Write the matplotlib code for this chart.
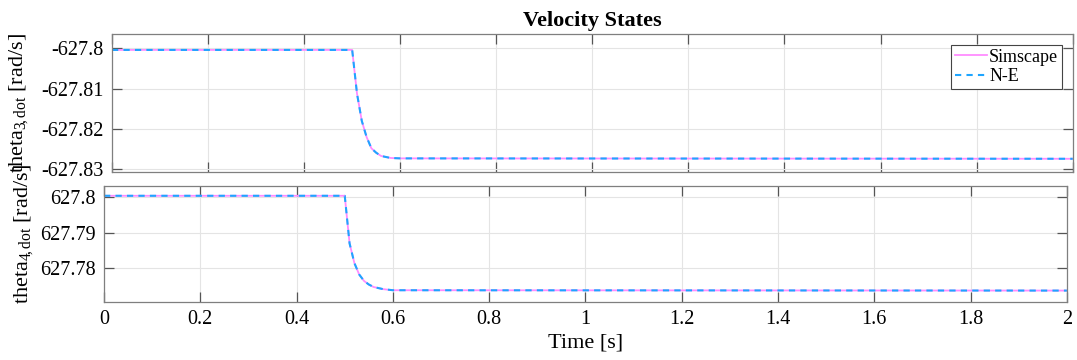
import numpy as np
import matplotlib
matplotlib.use('Agg')
import matplotlib.pyplot as plt

plt.rcParams['font.family'] = ['Liberation Serif', 'DejaVu Serif']
plt.rcParams['mathtext.fontset'] = 'custom'
plt.rcParams['mathtext.rm'] = 'Liberation Serif'
plt.rcParams['mathtext.it'] = 'Liberation Serif'

# time samples [s]
t = [0.0, 0.5, 0.51, 0.52, 0.53, 0.54, 0.55, 0.56, 0.58, 0.6, 2.0]
# theta_3 dot [rad/s]
theta3_sim = [-627.8004, -627.8004, -627.8112, -627.8180, -627.8220, -627.8248,
              -627.8259, -627.8267, -627.8272, -627.8273, -627.8274]
theta3_ne = theta3_sim
# theta_4 dot [rad/s]
theta4_sim = [627.8003, 627.8003, 627.7870, 627.7815, 627.7783, 627.7765,
              627.7755, 627.7748, 627.7742, 627.7739, 627.7738]
theta4_ne = theta4_sim

xticks = [0, 0.2, 0.4, 0.6, 0.8, 1, 1.2, 1.4, 1.6, 1.8, 2]
xticklabels = ['0', '0.2', '0.4', '0.6', '0.8', '1', '1.2', '1.4', '1.6', '1.8', '2']

c_sim = '#ff8cff'
c_ne = '#1ea5ff'

fig = plt.figure(figsize=(10.77, 3.6), dpi=100)
ax1 = fig.add_axes([0.104, 0.522, 0.892, 0.383])
ax2 = fig.add_axes([0.0966, 0.162, 0.894, 0.322])

def style(ax):
    ax.grid(True, color='#e4e4e4', linewidth=0.8)
    ax.set_axisbelow(True)
    for s in ax.spines.values():
        s.set_color('#7f7f7f')
        s.set_linewidth(0.9)
    ax.tick_params(direction='in', top=True, right=True, length=7,
                   color='#555555', labelsize=14.5, pad=6, width=0.9)
    ax.set_xlim(0, 2)
    ax.set_xticks(xticks)

ax1.plot(t, theta3_sim, color=c_sim, lw=1.3, label='Simscape')
ax1.plot(t, theta3_ne, color=c_ne, lw=1.5, ls=(0, (3, 2.5)), label='N-E')
style(ax1)
ax1.set_ylim(-627.8307, -627.7965)
ax1.set_yticks([-627.83, -627.82, -627.81, -627.8])
ax1.set_yticklabels(['-627.83', '-627.82', '-627.81', '-627.8'])
ax1.set_xticklabels([])
ax1.set_ylabel(r'theta$_{3\!,dot}$ [rad/s]', fontsize=16)
ax1.yaxis.set_label_coords(-0.085, 0.5)
ax1.set_title('Velocity States', fontsize=16, fontweight='bold', pad=6)
leg = ax1.legend(loc='upper right', fontsize=13, fancybox=False, framealpha=1,
                 edgecolor='#444444', handlelength=1.8, handletextpad=0.1,
                 borderpad=0.2, labelspacing=0.15, borderaxespad=0.6)
leg.get_frame().set_linewidth(0.8)

ax2.plot(t, theta4_sim, color=c_sim, lw=1.3)
ax2.plot(t, theta4_ne, color=c_ne, lw=1.5, ls=(0, (3, 2.5)))
style(ax2)
ax2.set_ylim(627.7707, 627.8031)
ax2.set_yticks([627.78, 627.79, 627.8])
ax2.set_yticklabels(['627.78', '627.79', '627.8'])
ax2.set_xticklabels(xticklabels)
ax2.set_ylabel(r'theta$_{4\!,dot}$ [rad/s]', fontsize=16)
ax2.yaxis.set_label_coords(-0.072, 0.58)
ax2.set_xlabel('Time [s]', fontsize=16, labelpad=3)

fig.savefig('out.png', dpi=100)
